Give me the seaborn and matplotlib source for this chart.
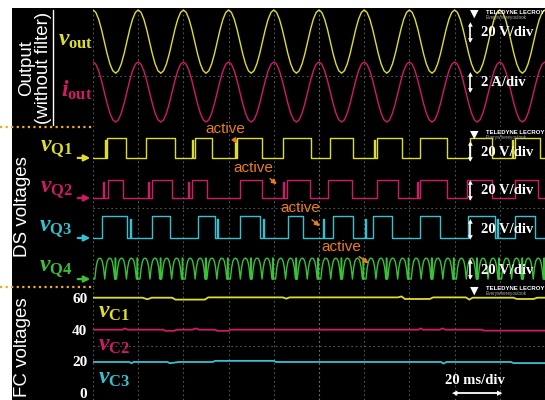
import numpy as np
import pandas as pd
import seaborn as sns
import matplotlib.pyplot as plt
from matplotlib.patches import Rectangle
from matplotlib.lines import Line2D

# ---------------------------------------------------------------------------
# data (time in ms, 20 ms/div, 10 div)
# ---------------------------------------------------------------------------
t_end = 200.0
period = 20.0
n_cycles = 10

# one fundamental cycle, 16 samples, starting at the positive peak
vout_cycle = [14.0, 12.9, 9.9, 5.4, 0.0, -5.4, -9.9, -12.9,
              -14.0, -12.9, -9.9, -5.4, 0.0, 5.4, 9.9, 12.9]          # V
iout_cycle = [1.33, 1.23, 0.94, 0.51, 0.0, -0.51, -0.94, -1.23,
              -1.33, -1.23, -0.94, -0.51, 0.0, 0.51, 0.94, 1.23]      # A

# DS voltages: intervals where the switch voltage is high (ms)
q1_on = [(6.2, 14.6), (23.5, 36.3), (45.1, 52.6), (63.7, 74.8), (84.1, 96.5),
         (104.9, 115.0), (125.7, 136.7), (144.7, 156.6), (166.8, 176.6), (186.7, 197.8)]
q2_on = [(6.6, 13.3), (26.1, 35.0), (43.8, 50.4), (65.0, 74.8), (85.8, 96.0),
         (104.0, 114.6), (125.7, 135.0), (144.7, 156.6), (165.5, 176.6), (186.7, 196.9)]
q3_on = [(4.0, 15.0), (26.1, 34.1), (46.5, 54.0), (65.0, 73.9), (86.3, 92.9),
         (106.2, 115.0), (123.9, 132.3), (144.7, 153.5), (165.9, 177.9), (186.7, 195.6)]
# short switching spikes (ms)
q1_spikes = [5.3, 43.8, 62.9, 124.5, 185.5]
q2_spikes = [4.4, 24.3, 42.0, 83.9, 143.5]
q3_spikes = [16.2, 54.9, 75.2, 101.8, 120.4, 178.6]
q1_level, q2_level, q3_level, q4_level = 15.0, 13.5, 16.0, 15.5       # V

# Q4: half-sine shaped pulses and spikes inside one fundamental cycle (ms)
q4_humps_cycle = [(0.8, 5.2), (5.2, 9.6), (10.4, 14.8), (14.8, 19.2)]
q4_spikes_cycle = [9.8, 19.5]
q4_hump_shape = [0.0, 0.55, 0.85, 0.97, 1.0, 0.97, 0.85, 0.55, 0.0]

# flying capacitor voltages (ms, V)
vc1_pts = [(0, 60.2), (22, 60.2), (24, 59.2), (26, 60.2), (35, 60.2), (36.5, 59.0),
           (49.5, 59.0), (51, 60.4), (84, 60.4), (85.5, 59.6), (87, 60.4), (135, 60.4),
           (136.5, 61.0), (138, 59.4), (149, 59.4), (150.5, 60.4), (165, 60.4),
           (166.5, 59.0), (168, 60.2), (186, 60.2), (187.5, 59.4), (195, 59.4),
           (196.5, 60.2), (200, 60.2)]
vc2_pts = [(0, 40.0), (13, 40.0), (14, 40.8), (15.5, 40.0), (31, 40.0), (32, 39.3),
           (36, 39.3), (37, 40.0), (44, 40.0), (45.5, 40.8), (47, 40.0), (54, 40.0),
           (55, 39.3), (60, 39.3), (61, 40.0), (144, 40.0), (145, 40.8), (146, 40.0),
           (153.5, 40.0), (154.5, 40.8), (156, 40.0), (172, 40.0), (173, 39.4), (200, 39.4)]
vc3_pts = [(0, 19.6), (16, 19.6), (17, 18.8), (18, 19.6), (33, 19.6), (34, 18.8),
           (38, 19.6), (53, 19.6), (54, 20.3), (80, 20.3), (81, 19.6), (154, 19.6),
           (155, 18.6), (156.5, 19.6), (185, 19.6), (186, 18.9), (200, 18.9)]
fc_ticks = [0, 20, 40, 60]

# ---------------------------------------------------------------------------
# colours / screen placement
# ---------------------------------------------------------------------------
YEL, MAG, CYA, GRN = '#dede2a', '#d01a68', '#34c2d2', '#38c238'
ORA = '#ec7c1e'
W, H = 545, 400

vout_div, iout_div = 20.0, 2.0        # V/div, A/div on output screen
vout_pos, iout_pos = 1.89, 0.774       # div from bottom of output screen
q_pos = {'Q1': 95.6, 'Q2': 65.9, 'Q3': 36.3, 'Q4': 5.9}   # V from bottom of DS screen


def square(on, spikes, level):
    ev = [(a, b, level) for a, b in on] + [(s, s + 0.4, 0.9 * level) for s in spikes]
    t, v = [0.0], [0.0]
    for a, b, lv in sorted(ev):
        t += [a, a, b, b]
        v += [0.0, lv, lv, 0.0]
    t.append(t_end)
    v.append(0.0)
    return np.array(t), np.array(v)


def humps(level):
    t, v = [0.0], [0.0]
    for k in range(n_cycles):
        ev = [('h', a, b) for a, b in q4_humps_cycle] + [('s', s, s) for s in q4_spikes_cycle]
        for kind, a, b in sorted(ev, key=lambda e: e[1]):
            a, b = a + k * period, b + k * period
            if kind == 'h':
                t += list(np.linspace(a, b, len(q4_hump_shape)))
                v += [s * level for s in q4_hump_shape]
            else:
                t += [a, a, a + 0.25, a + 0.25]
                v += [0.0, level, level, 0.0]
    t.append(t_end)
    v.append(0.0)
    return np.array(t), np.array(v)


sns.set_theme(style='dark')
plt.rcParams['font.family'] = ['Liberation Sans', 'DejaVu Sans']
plt.rcParams['mathtext.fontset'] = 'custom'
plt.rcParams['mathtext.it'] = 'Liberation Serif:italic:bold'
plt.rcParams['mathtext.bf'] = 'Liberation Serif:bold'
plt.rcParams['mathtext.rm'] = 'Liberation Serif'

fig = plt.figure(figsize=(W / 100, H / 100), dpi=100)
fig.patch.set_facecolor('white')
fig.patches.append(Rectangle((12 / W, 0), 1 - 12 / W, 1 - 8 / H, transform=fig.transFigure,
                             facecolor='black', edgecolor='none', zorder=-5))


def fx(px):
    return px / W


def fy(py):
    return 1 - py / H


left, width = fx(93), 452 / W
ax_out = fig.add_axes([left, fy(127), width, 119 / H])
ax_ds = fig.add_axes([left, fy(287), width, 160 / H])
ax_fc = fig.add_axes([left, 0, width, 113 / H])

for ax in (ax_out, ax_ds, ax_fc):
    ax.set_facecolor('black')
    ax.set_xlim(0, t_end)
    ax.set_xticks(np.arange(0, t_end + 1, period))
    ax.set_xticklabels([])
    ax.grid(True, axis='x', color='#555555', linestyle=(0, (1.5, 2.5)), linewidth=0.8)
    ax.grid(False, axis='y')
    ax.axvline(100, color='#707070', linestyle=(0, (1.5, 2.5)), linewidth=0.8, zorder=1)
    for s in ax.spines.values():
        s.set_visible(False)
    ax.tick_params(length=0)

# ---------------- output screen ----------------
t_cyc = np.arange(n_cycles * len(vout_cycle) + 1) * period / len(vout_cycle)
vout = np.append(np.tile(vout_cycle, n_cycles), vout_cycle[0])
iout = np.append(np.tile(iout_cycle, n_cycles), iout_cycle[0])
out_df = pd.concat([
    pd.DataFrame({'t': t_cyc, 'y': vout_pos + vout / vout_div, 'trace': 'vout'}),
    pd.DataFrame({'t': t_cyc, 'y': iout_pos + iout / iout_div, 'trace': 'iout'}),
])
sns.lineplot(data=out_df, x='t', y='y', hue='trace', palette={'vout': YEL, 'iout': MAG},
             estimator=None, sort=False, legend=False, linewidth=1.0, ax=ax_out)
ax_out.set_ylim(0, 119 / 45.2)
ax_out.set_yticks([])
ax_out.axhline((127 - 76) / 45.2, color='#555555', linestyle=(0, (1.5, 2.5)), linewidth=0.8, zorder=1)

# ---------------- DS screen ----------------
frames = []
for name, on, sp, lvl in (('Q1', q1_on, q1_spikes, q1_level), ('Q2', q2_on, q2_spikes, q2_level),
                          ('Q3', q3_on, q3_spikes, q3_level)):
    t, v = square(on, sp, lvl)
    frames.append(pd.DataFrame({'t': t, 'y': q_pos[name] + v, 'trace': name}))
t4, v4 = humps(q4_level)
frames.append(pd.DataFrame({'t': t4, 'y': q_pos['Q4'] + v4, 'trace': 'Q4'}))
ds_df = pd.concat(frames)
ds_pal = {'Q1': YEL, 'Q2': MAG, 'Q3': CYA, 'Q4': GRN}
sns.lineplot(data=ds_df, x='t', y='y', hue='trace', palette=ds_pal,
             estimator=None, sort=False, legend=False, linewidth=1.0, ax=ax_ds)
ax_ds.set_ylim(0, 160 / 1.35)
ax_ds.set_yticks([])
ax_ds.axhline((287 - 208) / 1.35, color='#555555', linestyle=(0, (1.5, 2.5)), linewidth=0.8, zorder=1)
for name, c in ds_pal.items():
    ax_ds.annotate('', xy=(0, q_pos[name]), xytext=(-8, q_pos[name]), annotation_clip=False,
                   arrowprops=dict(arrowstyle='-|>', color=c, lw=1.6, mutation_scale=9))

# "active" markers
active = [((58.4, 117.3), (61.9, 111.1), (64.2, 104.4)),
          ((70.8, 88.1), (77.4, 81.5), (82.3, 74.8)),
          ((91.6, 58.5), (96.0, 51.1), (101.3, 43.7)),
          ((109.7, 29.6), (116.8, 23.7), (123.0, 16.3))]
for (tx, ty), tail, tip in active:
    ax_ds.text(tx, ty, 'active', color=ORA, fontsize=11, ha='center', va='center', zorder=5)
    ax_ds.annotate('', xy=tip, xytext=tail,
                   arrowprops=dict(arrowstyle='-|>', color=ORA, lw=1.1, mutation_scale=7))

# ---------------- FC screen ----------------
fc_df = pd.concat([
    pd.DataFrame({'t': [p[0] for p in pts], 'y': [p[1] for p in pts], 'trace': name})
    for name, pts in (('C1', vc1_pts), ('C2', vc2_pts), ('C3', vc3_pts))
])
sns.lineplot(data=fc_df, x='t', y='y', hue='trace', palette={'C1': YEL, 'C2': MAG, 'C3': CYA},
             estimator=None, sort=False, legend=False, linewidth=1.3, ax=ax_fc)
ax_fc.set_ylim(-7 / 1.583, (393 - 287) / 1.583)
ax_fc.set_yticks(fc_ticks)
ax_fc.set_yticklabels([str(v) for v in fc_ticks], color='white', fontsize=11,
                      fontweight='bold', family='Liberation Serif')
ax_fc.tick_params(axis='y', pad=4)
ax_fc.axhline(29.7, color='#555555', linestyle=(0, (1.5, 2.5)), linewidth=0.8, zorder=1)
for ax in (ax_out, ax_ds, ax_fc):
    ax.set_xlabel('')
    ax.set_ylabel('')

# ---------------- labels ----------------
lab = dict(fontsize=17, ha='center', va='center')
fig.text(fx(76), fy(40), r'$v_{\mathbf{out}}$', color=YEL, **lab)
fig.text(fx(77), fy(90), r'$i_{\mathbf{out}}$', color=MAG, **lab)
fig.text(fx(56), fy(149), r'$v_{\mathbf{Q1}}$', color=YEL, **lab)
fig.text(fx(56), fy(190), r'$v_{\mathbf{Q2}}$', color=MAG, **lab)
fig.text(fx(56), fy(229), r'$v_{\mathbf{Q3}}$', color=CYA, **lab)
fig.text(fx(56), fy(269), r'$v_{\mathbf{Q4}}$', color=GRN, **lab)
fig.text(fx(114), fy(312), r'$v_{\mathbf{C1}}$', color=YEL, **lab)
fig.text(fx(114), fy(345), r'$v_{\mathbf{C2}}$', color=MAG, **lab)
fig.text(fx(114), fy(378), r'$v_{\mathbf{C3}}$', color=CYA, **lab)

side = dict(color='white', fontsize=13.5, rotation=90, ha='center', va='center')
fig.text(fx(27), fy(68), 'Output', **side)
fig.text(fx(44), fy(68), '(without filter)', **side)
fig.add_artist(Line2D([fx(53), fx(53)], [fy(10), fy(125)], color='white', lw=1.0,
                      transform=fig.transFigure))
fig.text(fx(23), fy(207), 'DS voltages', **side)
fig.text(fx(23), fy(347), 'FC voltages', **side)

for py in (127, 287):
    fig.add_artist(Line2D([0, fx(93)], [fy(py), fy(py)], color='#f0a828', lw=1.6,
                          linestyle=(0, (1, 1.5)), transform=fig.transFigure))

# scale annotations
scale = dict(color='white', fontsize=10.5, fontweight='bold', family='Liberation Serif',
             ha='left', va='center')
for py, s in ((33, '20 V/div'), (83, '2 A/div'), (152, '20 V/div'), (191, '20 V/div'),
              (230, '20 V/div'), (270, '20 V/div')):
    fig.text(fx(481), fy(py), s, **scale)
    fig.add_artist(Line2D([fx(470), fx(470)], [fy(py - 8), fy(py + 8)], color='white', lw=1.2,
                          transform=fig.transFigure))
    fig.text(fx(470), fy(py - 8), '▲', color='white', fontsize=4.5, ha='center', va='center',
             family='DejaVu Sans')
    fig.text(fx(470), fy(py + 8), '▼', color='white', fontsize=4.5, ha='center', va='center',
             family='DejaVu Sans')
fig.text(fx(475), fy(381), '20 ms/div', color='white', fontsize=10.5, fontweight='bold',
         family='Liberation Serif', ha='center', va='center')
fig.add_artist(Line2D([fx(455), fx(500)], [fy(393), fy(393)], color='white', lw=1.3,
                      transform=fig.transFigure))
fig.text(fx(455), fy(393), '◀', color='white', fontsize=5, ha='center', va='center', family='DejaVu Sans')
fig.text(fx(500), fy(393), '▶', color='white', fontsize=5, ha='center', va='center', family='DejaVu Sans')

# scope vendor marks
for py in (14, 135, 291):
    fig.text(fx(474), fy(py), '▼', color='white', fontsize=8, ha='center', va='center',
             family='DejaVu Sans')
    fig.text(fx(486), fy(py - 2), 'TELEDYNE LECROY', color='white', fontsize=4.3,
             fontweight='bold', ha='left', va='center')
    fig.text(fx(486), fy(py + 3), 'Everywhereyoulook', color='#aaaaaa', fontsize=3.3,
             ha='left', va='center')

fig.savefig('out.png', dpi=100, facecolor=fig.get_facecolor())
